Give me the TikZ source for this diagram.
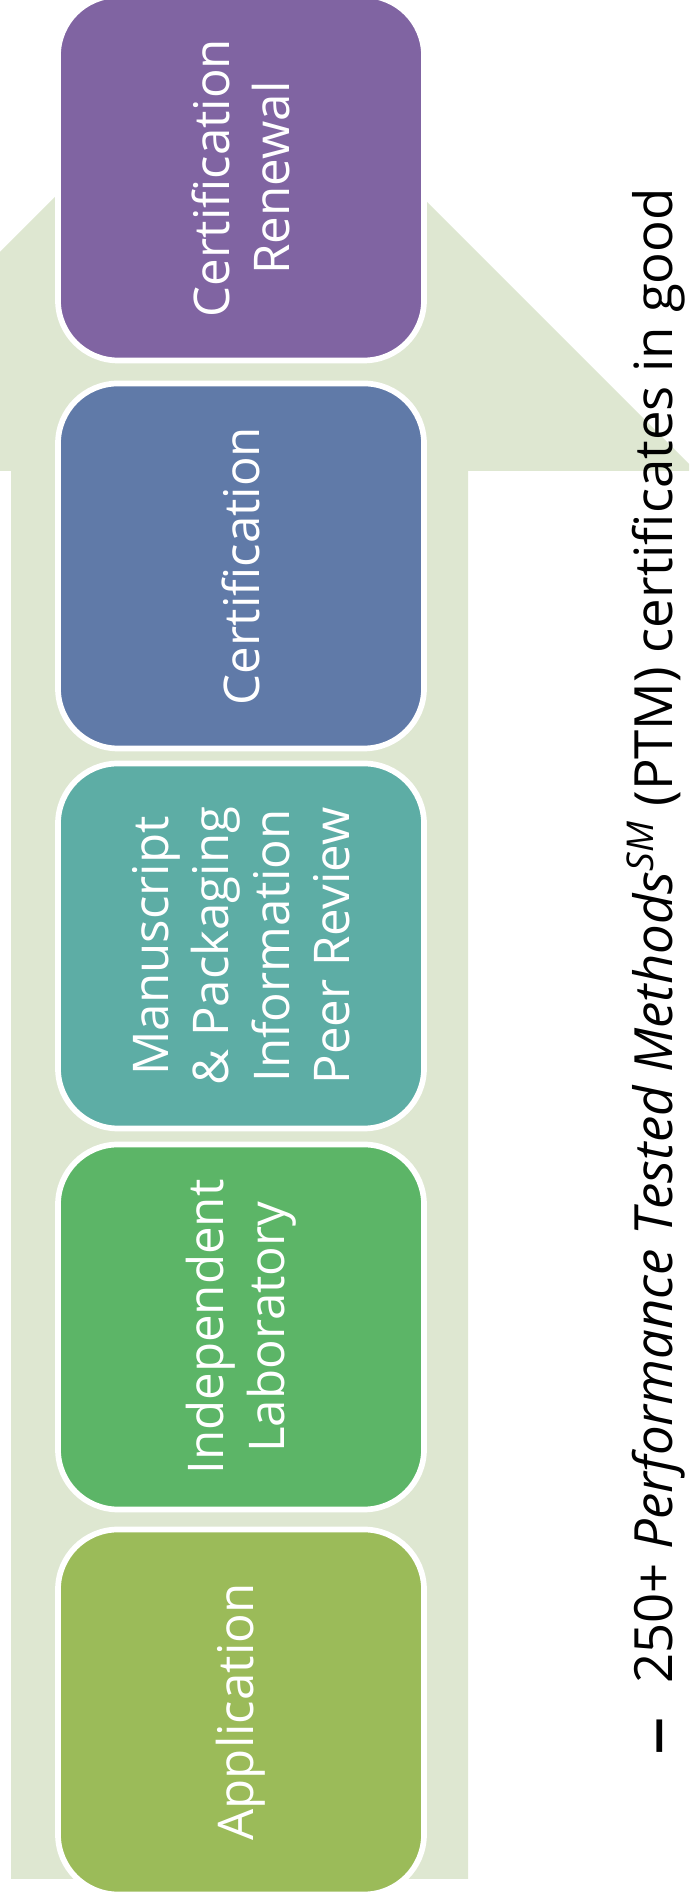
\documentclass[tikz,border=0pt]{standalone}
\usepackage{fontspec}
\setmainfont{Open Sans}
\usepackage{xcolor}

\definecolor{arrowbg}{RGB}{222,231,209}
\definecolor{renewal}{RGB}{128,100,162}
\definecolor{cert}{RGB}{96,122,168}
\definecolor{review}{RGB}{93,173,165}
\definecolor{lab}{RGB}{92,181,103}
\definecolor{appl}{RGB}{155,187,89}

\tikzset{
  stage/.style={draw=white, line width=0.057cm, rounded corners=0.6cm,
    minimum width=3.65cm, minimum height=3.66cm, inner sep=0pt,
    text=white, align=center, rotate=90,
    font=\fontsize{14}{17.2}\selectfont},
  note/.style={rotate=90, anchor=base west, inner sep=0pt,
    font=\fontsize{15}{18}\selectfont}
}

\begin{document}
\begin{tikzpicture}
\useasboundingbox (0,0) rectangle (6.89,19);
\clip (0,0) rectangle (6.89,19);
% big arrow behind the steps
\fill[arrowbg] (0.11,0.21) -- (0.11,14.29) -- (-2.19,14.29) -- (2.385,18.865)
  -- (6.96,14.29) -- (4.68,14.29) -- (4.68,0.21) -- cycle;

\node[stage, fill=appl] (appl) at (2.41,1.88) {Application};
\node[stage, fill=lab] (lab) at (2.41,5.73) {Independent\\Laboratory};
\node[stage, fill=review] (review) at (2.41,9.54) {Manuscript\\\& Packaging\\Information\\Peer Review};
\node[stage, fill=cert] (cert) at (2.41,13.34) {Certification};
\node[stage, fill=renewal] (renewal) at (2.41,17.22) {Certification\\Renewal};

\node[note] (ptm) at (6.72,1.44) {{\fontsize{22}{22}\selectfont\raisebox{-0.08cm}{–}}\hspace{0.33cm}250+ \textit{Performance Tested Methods\textsuperscript{SM}} (PTM) certificates in good};
\end{tikzpicture}
\end{document}
